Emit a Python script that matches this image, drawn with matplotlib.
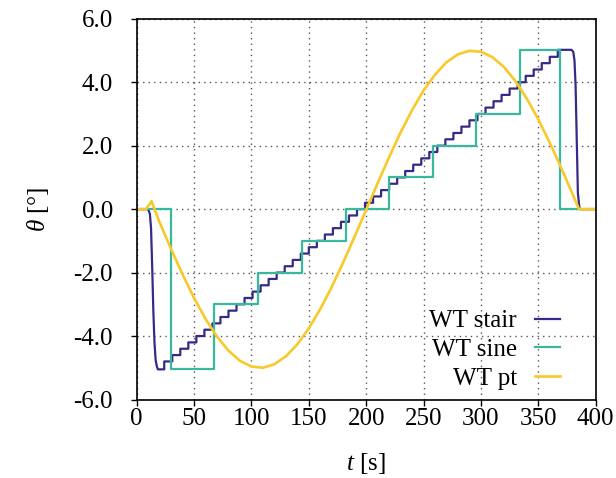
import numpy as np
import matplotlib
matplotlib.use("Agg")
import matplotlib.pyplot as plt

plt.rcParams["font.family"] = ["Liberation Serif", "DejaVu Serif"]
plt.rcParams["mathtext.fontset"] = "custom"
plt.rcParams["mathtext.rm"] = "Liberation Serif"
plt.rcParams["mathtext.it"] = "Liberation Serif:italic"
plt.rcParams["axes.unicode_minus"] = False

# WT stair: start transient, then 0.2 deg steps, then return to zero
stair_t0 = [0, 10, 11.5, 12.5, 13.5, 14.5, 15.5, 16.5, 17.5, 18.5, 20]
stair_v0 = [0, 0, -0.15, -0.6, -1.8, -3.2, -4.2, -4.75, -4.95, -5.05, -5.05]
step_t = [24, 31, 38, 45, 52, 59, 66, 73, 80, 87, 94, 101, 108, 115, 122,
          129, 136, 143, 150, 157, 164, 171, 178, 185, 192, 199, 206, 213,
          220, 227, 234, 241, 248, 255, 262, 269, 276, 283, 290, 297, 304,
          311, 318, 325, 332, 339, 346, 353, 360, 367]
step_v = [-4.8, -4.6, -4.4, -4.2, -4.0, -3.8, -3.6, -3.4, -3.2, -3.0, -2.8,
          -2.6, -2.4, -2.2, -2.0, -1.8, -1.6, -1.4, -1.2, -1.0, -0.8, -0.6,
          -0.4, -0.2, 0.0, 0.2, 0.4, 0.6, 0.8, 1.0, 1.2, 1.4, 1.6, 1.8, 2.0,
          2.2, 2.4, 2.6, 2.8, 3.0, 3.2, 3.4, 3.6, 3.8, 4.0, 4.2, 4.4, 4.6,
          4.8, 5.02]
stair_t1 = [379, 380.5, 381.5, 382.5, 383.5, 384.5, 386, 400]
stair_v1 = [5.02, 4.95, 4.7, 3.9, 2.2, 0.5, 0.0, 0.0]

# WT sine: stepped levels
sine_t = [0, 29.5, 67.5, 106, 144, 182.5, 220, 258, 296, 334, 368.5, 400]
sine_v = [0, -5.05, -3.0, -2.0, -1.0, 0.0, 1.0, 2.0, 3.0, 5.0, 0.0, 0.0]

# WT pt: smooth sine-like path
pt_t = [0, 8, 10.5, 13, 15, 20, 25, 30, 40, 50, 60, 70, 80, 90, 100, 110,
        120, 130, 140, 150, 160, 170, 180, 190, 200, 210, 220, 230, 240, 250,
        260, 270, 280, 290, 300, 310, 320, 330, 340, 350, 360, 370, 380,
        385.5, 400]
pt_v = [0, 0, 0.12, 0.25, 0.05, -0.42, -0.84, -1.26, -2.06, -2.80, -3.46,
        -4.02, -4.46, -4.78, -4.96, -5.00, -4.89, -4.64, -4.26, -3.76, -3.15,
        -2.45, -1.68, -0.86, -0.02, 0.82, 1.64, 2.42, 3.12, 3.74, 4.24, 4.63,
        4.88, 4.99, 4.96, 4.79, 4.48, 4.04, 3.48, 2.83, 2.09, 1.30, 0.46,
        0.0, 0.0]

# build the stair trace
sx = list(stair_t0)
sy = list(stair_v0)
for t, v in zip(step_t, step_v):
    sx += [t, t]
    sy += [sy[-1], v]
sx += stair_t1
sy += stair_v1

fig = plt.figure(figsize=(6.16, 4.78), dpi=100)
ax = fig.add_axes([0.2219, 0.1642, 0.7451, 0.7966])

ax.plot(sx, sy, color="#352a87", lw=1.6, label="WT stair")
ax.plot(sine_t, sine_v, color="#38b99e", lw=1.6, drawstyle="steps-post", label="WT sine")
ax.plot(pt_t, pt_v, color="#f9c92a", lw=1.9, label="WT pt")

ax.set_xlim(0, 400)
ax.set_ylim(-6, 6)
ax.set_xticks(np.arange(0, 401, 50))
ax.set_yticks(np.arange(-6, 6.1, 2))
ax.set_yticklabels(["%.1f" % v for v in np.arange(-6, 6.1, 2)])
ax.grid(True, color="#555555", linestyle=(0, (1, 3)), lw=1)
ax.tick_params(direction="out", length=4, width=1, labelsize=18, top=False, right=False)
ax.tick_params(axis="x", pad=2)
ax.tick_params(axis="y", pad=13)
for s in ax.spines.values():
    s.set_linewidth(1.2)

ax.set_xlabel(r"$t$ [s]", fontsize=18, labelpad=15)
ax.set_ylabel(r"$\theta$ [°]", fontsize=18, labelpad=16)

ax.legend(loc="lower right", bbox_to_anchor=(0.922, 0.025), frameon=False,
          markerfirst=False, fontsize=18, handlelength=1.0, handletextpad=0.72,
          labelspacing=0.25, borderpad=0, borderaxespad=0)

plt.savefig("out.png", dpi=100)
